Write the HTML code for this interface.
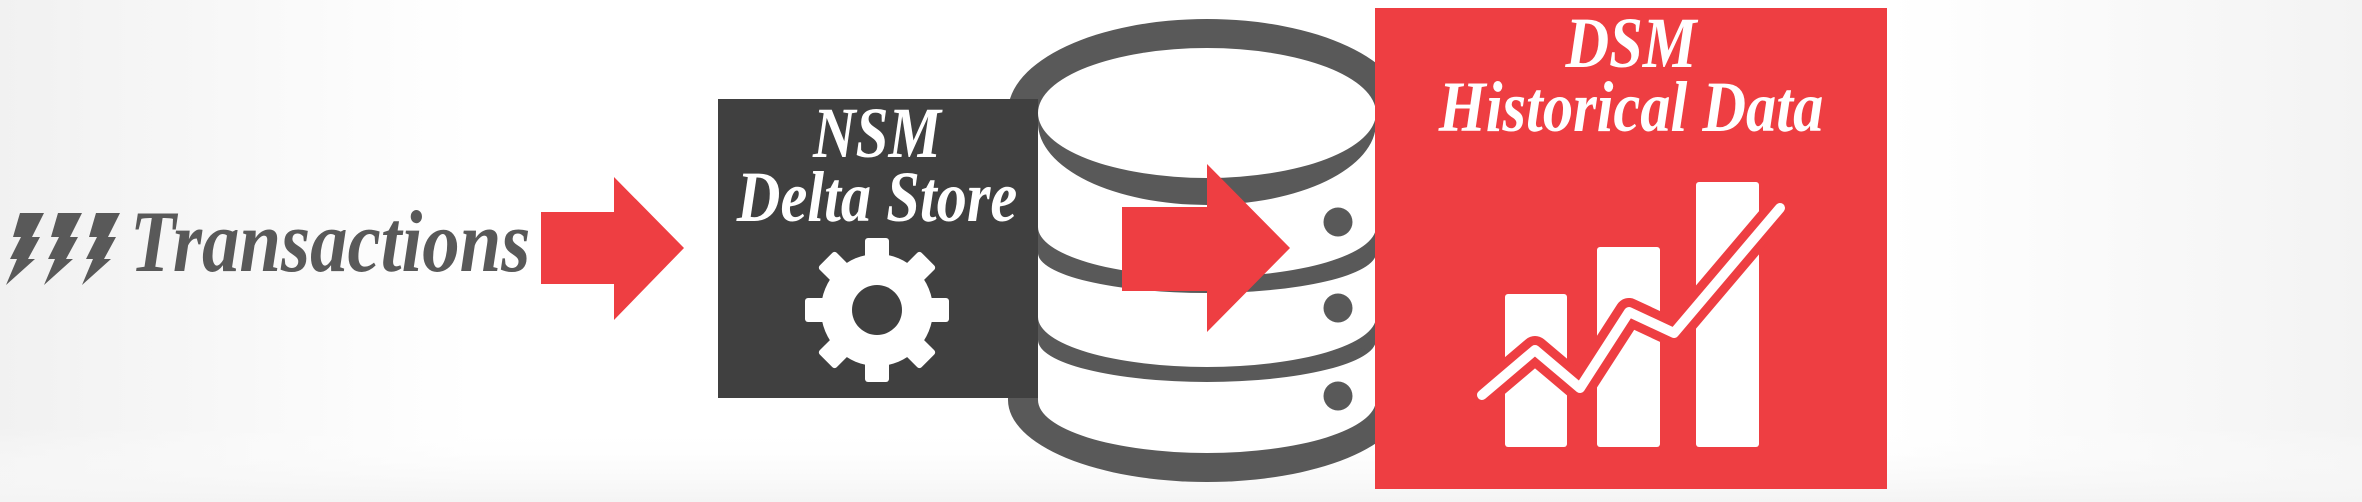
<!DOCTYPE html>
<html><head><meta charset="utf-8"><style>
html,body{margin:0;padding:0;width:2362px;height:502px;overflow:hidden;background:#fff}
.t{font-family:"Liberation Serif",serif;font-weight:bold;font-style:italic}
</style></head><body>
<svg width="2362" height="502" viewBox="0 0 2362 502" xmlns="http://www.w3.org/2000/svg">
<defs>
<linearGradient id="bg" x1="0" y1="0" x2="1" y2="0">
<stop offset="0" stop-color="#f1f1f1"/><stop offset="0.2" stop-color="#fff"/><stop offset="0.8" stop-color="#fff"/><stop offset="1" stop-color="#f3f3f3"/>
</linearGradient>
<linearGradient id="bg2" x1="0" y1="0" x2="0" y2="1">
<stop offset="0.85" stop-color="#fff" stop-opacity="0"/><stop offset="1" stop-color="#f4f4f4" stop-opacity="1"/>
</linearGradient>
</defs>
<rect width="2362" height="502" fill="url(#bg)"/>
<rect width="2362" height="502" fill="url(#bg2)"/>

<g fill="#595959">
<polygon transform="translate(4,213)" points="16,0 40,0 28,24 36,24 24,46 31,46 2,72 13,46 6,46 17,24 9,24"/>
<polygon transform="translate(42,213)" points="16,0 40,0 28,24 36,24 24,46 31,46 2,72 13,46 6,46 17,24 9,24"/>
<polygon transform="translate(80,213)" points="16,0 40,0 28,24 36,24 24,46 31,46 2,72 13,46 6,46 17,24 9,24"/>
</g>
<text class="t" transform="translate(130,271) scale(0.85,1)" font-size="88" fill="#595959">Transactions</text>

<polygon fill="#ee3e42" points="541,212 614,212 614,177 684,248 614,320 614,284 541,284"/>

<g>
<ellipse cx="1207" cy="112" rx="199" ry="93" fill="#595959"/>
<rect x="1008" y="112" width="398" height="288" fill="#595959"/>
<ellipse cx="1207" cy="400" rx="199" ry="82" fill="#595959"/>
<ellipse cx="1207" cy="113" rx="169" ry="65" fill="#fff"/>
<path fill="#fff" d="M1038,123 A169,82 0 0 0 1376,123 L1376,227 A169,50 0 0 1 1038,227 Z"/>
<path fill="#fff" d="M1038,253 A169,40 0 0 0 1376,253 L1376,317 A169,50 0 0 1 1038,317 Z"/>
<path fill="#fff" d="M1038,340 A169,42 0 0 0 1376,340 L1376,400 A169,53 0 0 1 1038,400 Z"/>
<circle cx="1338" cy="222" r="14.5" fill="#595959"/>
<circle cx="1338" cy="308" r="14.5" fill="#595959"/>
<circle cx="1338" cy="396" r="14.5" fill="#595959"/>
</g>

<rect x="718" y="99" width="320" height="299" fill="#404040"/>
<text class="t" transform="translate(877,157) scale(0.82,1)" text-anchor="middle" font-size="72" fill="#fff">NSM</text>
<text class="t" transform="translate(877,221) scale(0.84,1)" text-anchor="middle" font-size="72" fill="#fff">Delta Store</text>
<g transform="translate(877,310)" fill="#fff">
<circle r="56"/>
<rect x="-12" y="-72" width="24" height="30" rx="3"/>
<rect x="-12" y="-72" width="24" height="30" rx="3" transform="rotate(45)"/>
<rect x="-12" y="-72" width="24" height="30" rx="3" transform="rotate(90)"/>
<rect x="-12" y="-72" width="24" height="30" rx="3" transform="rotate(135)"/>
<rect x="-12" y="-72" width="24" height="30" rx="3" transform="rotate(180)"/>
<rect x="-12" y="-72" width="24" height="30" rx="3" transform="rotate(225)"/>
<rect x="-12" y="-72" width="24" height="30" rx="3" transform="rotate(270)"/>
<rect x="-12" y="-72" width="24" height="30" rx="3" transform="rotate(315)"/>
<circle r="25" fill="#404040"/>
</g>

<polygon fill="#ee3e42" points="1122,207 1207,207 1207,164 1290,248 1207,332 1207,291 1122,291"/>

<rect x="1375" y="8" width="512" height="481" fill="#ee3e42"/>
<text class="t" transform="translate(1631,67) scale(0.84,1)" text-anchor="middle" font-size="72" fill="#fff">DSM</text>
<text class="t" transform="translate(1631,131) scale(0.84,1)" text-anchor="middle" font-size="72" fill="#fff">Historical Data</text>
<g fill="#fff">
<rect x="1505" y="294" width="62" height="153" rx="3"/>
<rect x="1597" y="247" width="63" height="200" rx="3"/>
<rect x="1696" y="182" width="63" height="265" rx="3"/>
</g>
<polyline points="1482,395 1535,350 1580,388 1629,312 1674,333 1780,208" fill="none" stroke="#ee3e42" stroke-width="28" stroke-linejoin="round" stroke-linecap="round"/>
<polyline points="1482,395 1535,350 1580,388 1629,312 1674,333 1780,208" fill="none" stroke="#fff" stroke-width="10" stroke-linejoin="round" stroke-linecap="round"/>
</svg>
</body></html>
